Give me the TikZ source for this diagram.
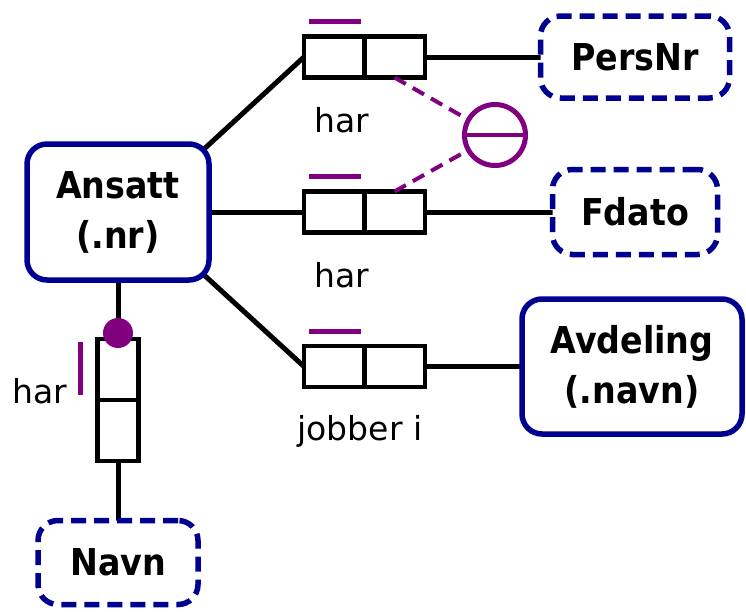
\documentclass[tikz,border=0pt]{standalone}
\usepackage{fontspec}
\setmainfont{DejaVu Sans}
\newfontfamily\entfont{DejaVu Sans Condensed}
\pgfdeclarelayer{background}
\pgfdeclarelayer{canvas}
\pgfsetlayers{canvas,background,main}
\definecolor{entblue}{RGB}{0,0,145}
\definecolor{relpurple}{RGB}{128,0,128}
\begin{document}
\begin{tikzpicture}[x=1pt,y=-1pt,
  every node/.style={inner sep=0pt, outer sep=0pt},
  entity/.style={draw=entblue, line width=5.5pt, rounded corners=20pt, fill=white,
    align=center, font=\entfont\bfseries\fontsize{37}{50}\selectfont},
  weak/.style={entity, dash pattern=on 15pt off 8pt},
  relbox/.style={draw, line width=4.5pt, fill=white},
  hrel/.style={relbox, minimum width=121pt, minimum height=41pt},
  vrel/.style={relbox, minimum width=41pt, minimum height=122pt},
  lbl/.style={font=\fontsize{33}{40}\selectfont, anchor=base},
  conn/.style={line width=5pt},
  cardbar/.style={draw=relpurple, line width=5pt},
  excl/.style={draw=relpurple, line width=4pt, dash pattern=on 13pt off 8pt}
]
\useasboundingbox (0,0) rectangle (746,611);
\begin{pgfonlayer}{canvas}
\fill[white] (0,0) rectangle (746,611);
\end{pgfonlayer}

% entities
\node[entity, minimum width=182pt, minimum height=136pt] (ans) at (118,212) {Ansatt\\(.nr)};
\node[weak, minimum width=189pt, minimum height=82pt] (per) at (635,57) {PersNr};
\node[weak, minimum width=165pt, minimum height=85pt] (fd) at (635,212) {Fdato};
\node[entity, minimum width=220pt, minimum height=135pt] (avd) at (632,366.5) {Avdeling\\(.navn)};
\node[weak, minimum width=160pt, minimum height=84pt] (navn) at (118,562.5) {Navn};

% relationship boxes with their role dividers
\node[hrel] (r1) at (364.5,57) {};
\draw[line width=4.5pt] (r1.north) -- (r1.south);
\node[hrel] (r2) at (364.5,212) {};
\draw[line width=4.5pt] (r2.north) -- (r2.south);
\node[hrel] (r3) at (364.5,366.5) {};
\draw[line width=4.5pt] (r3.north) -- (r3.south);
\node[vrel] (r4) at (118,400) {};
\draw[line width=4.5pt] (r4.west) -- (r4.east);

% relationship names
\node[lbl] (l1) at (342,132) {har};
\node[lbl] (l2) at (342,287) {har};
\node[lbl] (l3) at (360,440) {jobber i};
\node[lbl] (l4) at (40,403) {har};

% connectors
\begin{pgfonlayer}{background}
\draw[conn] ([shift={(-6pt,-6pt)}]ans.north east) -- (r1.west);
\draw[conn] (r1.east) -- (per.west);
\draw[conn] (ans.east) -- (r2.west);
\draw[conn] (r2.east) -- (fd.west);
\draw[conn] ([shift={(-6pt,6pt)}]ans.south east) -- (r3.west);
\draw[conn] (r3.east) -- (avd.west);
\draw[conn] (ans.south) -- (r4.north);
\draw[conn] (r4.south) -- (navn.north);
\end{pgfonlayer}

% uniqueness bars
\draw[cardbar] ([shift={(5pt,15pt)}]r1.north west) -- ([shift={(-4pt,15pt)}]r1.north);
\draw[cardbar] ([shift={(5pt,15pt)}]r2.north west) -- ([shift={(-4pt,15pt)}]r2.north);
\draw[cardbar] ([shift={(5pt,15pt)}]r3.north west) -- ([shift={(-4pt,15pt)}]r3.north);
\draw[cardbar] ([shift={(-17pt,-3pt)}]r4.north west) -- ([shift={(-17pt,-56pt)}]r4.north west);

% mandatory role dot
\fill[relpurple] ([yshift=6pt]r4.north) circle (15pt);

% exclusion constraint
\node[circle, draw=relpurple, line width=5pt, minimum size=61pt] (ex) at (495,135) {};
\draw[relpurple, line width=4pt] (ex.west) -- (ex.east);
\draw[excl] ([xshift=30pt]r1.south) -- (ex);
\draw[excl] ([xshift=30pt]r2.north) -- (ex);
\end{tikzpicture}
\end{document}
